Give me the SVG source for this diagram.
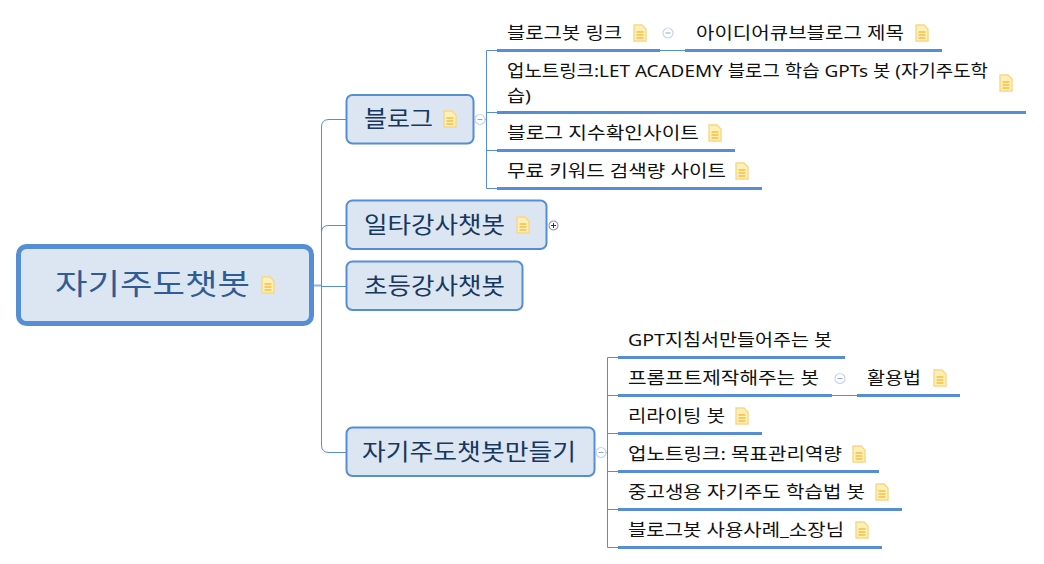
<svg xmlns="http://www.w3.org/2000/svg" xmlns:xlink="http://www.w3.org/1999/xlink" width="1044" height="564" viewBox="0 0 1044 564">
<style>
text{font-family:"Noto Sans","Noto Sans CJK KR",sans-serif;fill:#111;font-size:17px}
.box{fill:#dce6f3;stroke:#558ed5;stroke-width:2}
.main{font-size:23px;fill:#17375e}
.root{font-size:29px;fill:#2f5c94}
.line{fill:none;stroke:#558ed5;stroke-width:1}
.ul{fill:none;stroke:#558ed5;stroke-width:3}
</style>
<defs>
<g id="note">
<path d="M-6-8H2L6-4V8H-6Z" fill="#fff0b8" stroke="#fbd585" stroke-width="1.4"/>
<path d="M-3.500-1H3.500M-3.500 2H3.500M-3.500 5H3.500" stroke="#f8cb60" stroke-width="1.8"/>
</g>
<g id="minus">
<circle r="5" fill="#fff" stroke="#c6d6f0" stroke-width="1.2"/>
<path d="M-2.500 0H2.500" stroke="#8fa8d0" stroke-width="1"/>
</g>
<g id="plus">
<circle r="4.500" fill="#fff" stroke="#8a96ad" stroke-width="1.100"/>
<path d="M-2.500 0H2.500M0-2.500V2.500" stroke="#333" stroke-width="1"/>
</g>
</defs>
<g id="connectors">
<path class="line" d="M346 119.500H329Q321.500 119.500 321.500 127V445Q321.500 452.500 329 452.500H346"/>
<path class="line" d="M321.500 232Q321.500 225.500 329 225.500H346"/>
<path class="line" d="M321.500 286.500H346"/>
<path d="M314 285.500H321" stroke="#8eb4e3" stroke-width="2"/>
<path class="line" d="M474 119.500H486.500M486.500 50.500V188.500M486.500 50.500H497M486.500 112.500H497M486.500 150.500H497M486.500 188.500H497"/>
<path class="line" d="M595 452.500H607.500M607.500 357.500V547.500M607.500 357.500H618M607.500 395.500H618M607.500 433.500H618M607.500 471.500H618M607.500 509.500H618M607.500 547.500H618"/>
<path class="line" d="M660 50.500H685M832 395.500H857"/>
</g>
<g id="n-root"><rect x="18.500" y="246.500" width="293" height="77" rx="8" fill="#dce6f3" stroke="#558ed5" stroke-width="5"/><text class="root" x="55" y="295" textLength="195" lengthAdjust="spacingAndGlyphs">자기주도챗봇</text><use href="#note" x="268" y="285"/></g>
<g id="n-blog"><rect class="box" x="346.500" y="95" width="127" height="48.500" rx="6"/><text class="main" x="364" y="127" textLength="69" lengthAdjust="spacingAndGlyphs">블로그</text><use href="#note" x="450" y="119"/><use href="#minus" x="480" y="119.500"/></g>
<g id="n-ilta"><rect class="box" x="346.500" y="200.500" width="200" height="48.500" rx="6"/><text class="main" x="364" y="233" textLength="141" lengthAdjust="spacingAndGlyphs">일타강사챗봇</text><use href="#note" x="523" y="225"/><use href="#plus" x="553.500" y="225.500"/></g>
<g id="n-cho"><rect class="box" x="346.500" y="261.500" width="176" height="48.500" rx="6"/><text class="main" x="364" y="294" textLength="141" lengthAdjust="spacingAndGlyphs">초등강사챗봇</text></g>
<g id="n-make"><rect class="box" x="346.500" y="427.500" width="248" height="48.500" rx="6"/><text class="main" x="362" y="460" textLength="214" lengthAdjust="spacingAndGlyphs">자기주도챗봇만들기</text><use href="#minus" x="601" y="452.500"/></g>
<g id="n-b1"><text x="507" y="39" textLength="115" lengthAdjust="spacingAndGlyphs">블로그봇 링크</text><use href="#note" x="640" y="33"/><use href="#minus" x="668" y="33"/><path class="ul" d="M497 50.500H660"/></g>
<g id="n-b1a"><text x="696" y="39" textLength="208" lengthAdjust="spacingAndGlyphs">아이디어큐브블로그 제목</text><use href="#note" x="922" y="33"/><path class="ul" d="M685 50.500H942"/></g>
<g id="n-b2"><text x="507" y="77" textLength="481" lengthAdjust="spacingAndGlyphs">업노트링크:LET ACADEMY 블로그 학습 GPTs 봇 (자기주도학</text><text x="507" y="102" textLength="24" lengthAdjust="spacingAndGlyphs">습)</text><use href="#note" x="1006" y="83"/><path class="ul" d="M497 112.500H1026"/></g>
<g id="n-b3"><text x="507" y="139" textLength="192" lengthAdjust="spacingAndGlyphs">블로그 지수확인사이트</text><use href="#note" x="715" y="133"/><path class="ul" d="M497 150.500H735"/></g>
<g id="n-b4"><text x="507" y="177" textLength="219" lengthAdjust="spacingAndGlyphs">무료 키워드 검색량 사이트</text><use href="#note" x="742" y="171"/><path class="ul" d="M497 188.500H762"/></g>
<g id="n-m1"><text x="628" y="346" textLength="204" lengthAdjust="spacingAndGlyphs">GPT지침서만들어주는 봇</text><path class="ul" d="M618 357.500H845"/></g>
<g id="n-m2"><text x="628" y="384" textLength="191" lengthAdjust="spacingAndGlyphs">프롬프트제작해주는 봇</text><use href="#minus" x="840" y="378.500"/><path class="ul" d="M618 395.500H832"/></g>
<g id="n-m2a"><text x="867" y="384" textLength="54" lengthAdjust="spacingAndGlyphs">활용법</text><use href="#note" x="940" y="378"/><path class="ul" d="M857 395.500H960"/></g>
<g id="n-m3"><text x="628" y="422" textLength="97" lengthAdjust="spacingAndGlyphs">리라이팅 봇</text><use href="#note" x="742" y="416"/><path class="ul" d="M618 433.500H762"/></g>
<g id="n-m4"><text x="628" y="460" textLength="214" lengthAdjust="spacingAndGlyphs">업노트링크: 목표관리역량</text><use href="#note" x="859" y="454"/><path class="ul" d="M618 471.500H879"/></g>
<g id="n-m5"><text x="628" y="498" textLength="237" lengthAdjust="spacingAndGlyphs">중고생용 자기주도 학습법 봇</text><use href="#note" x="882" y="492"/><path class="ul" d="M618 509.500H902"/></g>
<g id="n-m6"><text x="628" y="536" textLength="216" lengthAdjust="spacingAndGlyphs">블로그봇 사용사례_소장님</text><use href="#note" x="862" y="530"/><path class="ul" d="M618 547.500H882"/></g>
</svg>
